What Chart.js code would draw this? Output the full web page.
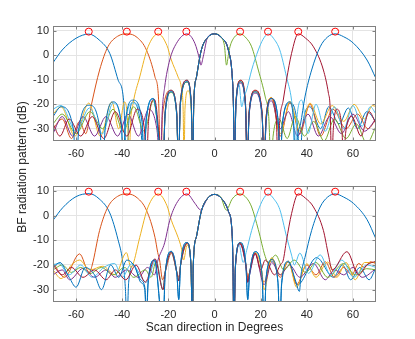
<!DOCTYPE html>
<html lang="en">
<head>
	<meta charset="UTF-8">
	<title>BF radiation pattern</title>
	<script src="https://cdn.jsdelivr.net/npm/chart.js"></script>
	<style>
		body { margin: 0; background: #fff; }
		#wrap { position: relative; width: 415px; height: 339px; }
		canvas { position: absolute; left: 0; }
		#top { top: 0; }
		#bottom { top: 165px; }
		#ylab {
			position: absolute; left: -78.5px; top: 160px; width: 200px; line-height: 16px;
			text-align: center; transform: rotate(-90deg);
			font: 12px "Liberation Sans", Arial, sans-serif; color: #262626;
		}
	</style>
</head>
<body>
<div id="wrap">
	<canvas id="top" width="415" height="165"></canvas>
	<canvas id="bottom" width="415" height="170"></canvas>
	<div id="ylab">BF radiation pattern (dB)</div>
</div>

<script>
	// axis ticks
	const xTicks = [-60, -40, -20, 0, 20, 40, 60];
	const yTicks = [-30, -20, -10, 0, 10];

	// red circles: beam directions
	const beamDirs = [-54.5, -38, -24.4, -12.2, 11.1, 23.2, 36.3, 52.3];
	const beamLevel = 9.7;

	// matlab default colour order (8 curves)
	const colors = ['#0072BD', '#D95319', '#EDB120', '#7E2F8E', '#77AC30', '#4DBEEE', '#A2142F', '#0072BD'];

	// ---------- upper plot ----------
	// broadside lobe and its first sidelobes, shared by the curves
	const topCenter = [[-9.4,-45],[-9.0,-20],[-7.8,-8.8],[-5.7,2.2],[-3,7.3],[0,8.8],[3,7.3],[6,2.2],[7.7,-8.8],[8.2,-20],[8.6,-45]];
	const topSideL = [[-22.3,-45],[-21.4,-24],[-18.8,-14.9],[-16.4,-24],[-15.6,-45],[-14.8,-20],[-11.9,-10.8],[-10.1,-20]];
	const topSideR = [[9.3,-20],[11.2,-10.8],[13.4,-20],[14.2,-45],[15,-24],[17.6,-14.9],[20.6,-24],[21.5,-45]];
	const topSideL2 = [[-22.3,-45],[-21.4,-23],[-18.9,-14.3],[-16.4,-23],[-15.6,-45],[-14.8,-19],[-12.0,-10.2],[-10.1,-19]];
	const topSideR2 = [[9.3,-19],[11.3,-10.2],[13.4,-19],[14.2,-45],[15,-23],[17.7,-14.3],[20.6,-23],[21.5,-45]];

	const topBlueA = [[-70,-3],[-66,2.2],[-60,7],[-54.5,8.7],[-50,6.3],[-45.4,0.8],[-41.8,-10],[-39.4,-18.5],[-38,-45],
		[-37.2,-28],[-35.3,-19],[-32.2,-27],[-30.5,-45],[-29.6,-26],[-26.5,-17.8],
		...topSideL, ...topCenter, ...topSideR,
		[22.4,-26],[24.7,-17.8],[27.6,-27],[28.5,-45],[29.4,-28],[32.7,-19.5],[36,-29],[37,-45],[38,-30],[41.4,-21],[46,-30],[49.5,-21],[54,-28],[58,-21.5],[62,-30],[66,-23],[70,-27]];

	const topOrange = [[-70,-30],[-66,-26],[-62,-34],[-58.5,-27],[-55.8,-32],[-53.3,-20],[-49.8,-6],[-46.2,3.5],[-42,7.8],[-37.7,8.8],[-33.5,7.3],[-29.5,2.2],[-25.8,-8.8],[-24.3,-17],[-23.3,-45],[-22.5,-24],
		[-18.9,-14.3],[-16.4,-23],[-15.6,-45],[-14.8,-19],[-12.0,-10.2],[-10.1,-19],
		...topCenter, ...topSideR2,
		[22.4,-25],[24.7,-17.3],[28.5,-33],[32.7,-19.3],[37,-32],[41.4,-20],[46,-33],[51.3,-22],[57,-30],[62,-24],[66.5,-30],[70,-26]];

	const topYellow = [[-70,-24],[-66.5,-21],[-60.5,-33],[-54.5,-19.5],[-49.5,-33],[-44.5,-19],[-41.5,-30],[-39,-19],[-37.6,-28],[-37,-45],[-36.4,-28],[-35.3,-19.7],[-32.4,-8.8],[-28.8,3.5],[-24.4,8.8],[-20.6,4],[-18.7,-1.9],[-15.8,-8.8],[-14.4,-13],[-13.6,-22],[-13.2,-45],[-12.8,-22],[-11.5,-14.5],[-10.1,-22],
		...topCenter, ...topSideR,
		[22.4,-25],[24.7,-17.2],[28.5,-32],[32.7,-18.8],[37,-31],[41.4,-19.5],[46,-28],[51,-20.5],[56,-27],[60.5,-20],[65,-26],[68.5,-20.5],[70,-21]];

	const topPurple = [[-70,-32],[-66,-25],[-61.5,-33],[-57,-25],[-52,-33],[-47,-25],[-42,-33],[-37.5,-24],[-33,-33],[-28.5,-22],[-25,-30],[-23.4,-45],[-22.7,-24],[-21.6,-13],[-19.4,-1.9],[-16.5,4.9],[-12,8.8],[-8.5,4.9],[-6.4,-1.9],[-5.9,-4],[-4.9,-0.6],[-3,7.3],[0,8.8],[3,7.3],[6,2.2],[7.7,-8.8],[8.2,-20],[8.6,-45],
		[9.3,-20.5],[11.2,-11.4],[13.4,-20.5],[14.2,-45],[15,-24.5],[17.6,-15.5],[20.6,-24.5],[21.5,-45],[22.4,-27],[24.7,-18.6],[28.5,-30],[32,-23],[36,-33],[40.5,-24],[45,-33],[50,-25],[55,-32],[60,-24],[65,-31],[70,-26]];

	const topGreen = [[-70,-28],[-66,-24],[-60,-32],[-54,-23],[-48.5,-30],[-44,-22],[-39.5,-31],[-35,-21],[-30.5,-31],[-26.5,-18.5],
		[-22.3,-45],[-21.4,-24],[-18.8,-15.2],[-16.4,-24],[-15.6,-45],[-14.8,-20],[-11.9,-11],[-10.1,-20],
		[-9.4,-45],[-9.0,-20],[-7.8,-8.8],[-5.7,2.2],[-3,7.3],[0,8.8],[3,7.3],[4.3,4],[5.2,-4],[6.0,0],[6.7,3.5],[8.5,7.3],[11.1,8.8],[13.8,7],[16.1,3.5],[19,-6],[22,-17],[23.5,-25],[24.5,-45],[25.4,-33],
		[28,-26],[31.5,-34],[35,-25],[39,-33],[43,-27],[47.5,-35],[52,-26],[57,-34],[61.5,-28],[66,-36],[70,-29]];

	const topLightBlue = [[-70,-22],[-66.5,-20.5],[-60,-31],[-54.2,-21.5],[-48.5,-32],[-44,-19.5],[-40.4,-28],[-39.5,-45],[-38.6,-28],[-35.3,-19.5],[-31.4,-27],[-30.5,-45],[-29.6,-27],[-26.5,-17.8],
		...topSideL2, ...topCenter,
		[9.3,-20],[10.6,-11.8],[11.8,-21],[12.8,-17],[13.9,-14.2],[16.1,-6],[19,2.2],[21,6.5],[23.3,8.8],[25.7,6.8],[28.3,2.2],[31.2,-8.8],[33.4,-18.3],[34.3,-27],[34.9,-45],[35.6,-27],[37.8,-18.3],[40.5,-32],[44,-20],[48,-31],[52,-21],[56,-30],[60,-20.5],[64,-29],[67.5,-21],[70,-24]];

	const topRed = [[-70,-28],[-67,-33],[-63,-26],[-58,-33],[-53,-25],[-48,-34],[-43,-23],[-38,-33],[-33.5,-22],[-30.4,-30],[-29.5,-45],[-28.6,-27],[-26,-18],
		...topSideL2, ...topCenter, ...topSideR2,
		[22.3,-26],[24.7,-17.6],[26.8,-26],[27.5,-45],[28.2,-28],[29.8,-18.3],[31.2,-10.1],[33.4,0.8],[36.3,8.8],[39.5,7],[42.9,3.5],[47.2,-6],[49.4,-15.6],[50.1,-21],[50.8,-45],[51.5,-30],[53,-22],[55.2,-30],[56,-45],[56.8,-32],[59.5,-25],[63.5,-33],[67,-23],[70,-28]];

	const topBlueB = [[-70,-25],[-66.5,-21],[-61.2,-30],[-60,-45],[-58.8,-30],[-54.2,-20.4],[-49.7,-30],[-48.5,-45],[-47.3,-29],[-44,-19],[-40.4,-28],[-39.5,-45],[-38.6,-27],[-35.3,-18.3],[-31.4,-27],[-30.5,-45],[-29.6,-26.5],[-26.5,-17.6],
		...topSideL, ...topCenter, ...topSideR,
		[22.4,-26.5],[24.7,-17.6],[27.6,-27],[28.5,-45],[29.4,-28],[32.7,-19],[34.3,-28],[35,-45],[36,-33],[37.3,-28],[39.2,-17],[42.1,-6],[45.8,3.5],[49,7.5],[52.3,8.8],[56,7.6],[60.3,4.9],[66.1,-1.9],[70,-9.5]];

	// ---------- lower plot ----------
	const botCenter = [[-9.6,-45],[-9.2,-20],[-7.8,-8.4],[-5.7,1.8],[-3,7],[0,8.6],[3,7],[6,1.8],[7.7,-8.4],[8.0,-20],[8.4,-45]];
	const botSideL = [[-22.3,-30],[-21.4,-23],[-18.7,-14.8],[-16.3,-23],[-15.5,-26.5],[-14.7,-20],[-11.9,-11.1],[-10.2,-20]];
	const botSideR = [[9.1,-20],[11.1,-11.1],[13.6,-20],[14.4,-26.5],[15.2,-23],[17.6,-15],[20.6,-23],[21.5,-30]];
	const botSideLB = [[-22.3,-45],[-21.4,-24],[-18.7,-14.5],[-16.3,-24],[-15.5,-34],[-14.7,-20],[-11.9,-10.9],[-10.2,-20]];
	const botSideRB = [[9.1,-20],[11.1,-10.9],[13.6,-20],[14.4,-34],[15.2,-24],[17.6,-14.6],[20.6,-24],[21.5,-45]];

	const botBlueA = [[-70,-1.9],[-65.8,3.2],[-60,7.7],[-54.3,8.9],[-50,6.8],[-45.4,1.1],[-41.8,-9.8],[-39.9,-18],[-38.6,-30],[-38,-45],[-37.2,-27],[-35,-20],[-32,-27],[-30.2,-30],[-29.5,-45],[-28.8,-28],[-26,-18],
		...botSideLB, ...botCenter, ...botSideRB,
		[22.4,-25],[24.8,-18.5],[27.5,-27],[28.3,-45],[29.1,-28],[32,-19],[36,-28],[44.3,-17],[51.5,-25],[55.5,-20],[59,-26],[63,-21],[67,-26],[70,-21]];

	const botOrange = [[-70,-19],[-65,-25],[-58.5,-15.5],[-54.3,-23],[-53,-20],[-49.8,-6],[-46.2,3.5],[-42,7.8],[-37.7,8.8],[-33.5,7.2],[-29.5,2.2],[-25.8,-8.8],[-24.6,-15],[-23.8,-18],[-22.5,-26],
		[-21.4,-23],[-18.7,-15.2],[-16.3,-23],[-15.5,-25],[-14.7,-20],[-11.9,-11.4],[-10.2,-20],
		...botCenter,
		[9.1,-20],[11.1,-11.4],[13.6,-20],[14.4,-25],[15.2,-23],[17.6,-15.3],[21.5,-27],[24.8,-17.5],[28.5,-25],[32,-18.5],[35.6,-28],[40,-20],[44,-24],[48,-18.7],[52,-25],[56,-21],[59.5,-24],[62.5,-19.4],[65,-21],[67.6,-18.7],[70,-19.5]];

	const botYellow = [[-70,-22],[-66.5,-25.5],[-62,-20],[-58.5,-18],[-54,-22],[-48.4,-20.5],[-43,-24],[-38.2,-15],[-36.2,-21],[-35.3,-19.7],[-32.4,-8.8],[-28.8,3.5],[-24.4,8.8],[-20.6,4],[-18.7,-1.9],[-15.8,-8.8],[-14.4,-13],[-13.4,-18],[-11.9,-12],[-10.2,-20],
		...botCenter, ...botSideR,
		[24.8,-17],[28.5,-24],[32,-18.5],[35.6,-29],[40,-19.5],[44,-25],[49,-18.8],[53,-25],[57,-19],[61,-26],[65,-19],[70,-19]];

	const botPurple = [[-70,-24],[-66,-22],[-62.8,-26],[-57,-21.4],[-52,-25],[-47,-22],[-43,-25],[-38,-22],[-33,-25],[-29,-21],[-26,-24],[-24.5,-18],[-21.6,-11],[-19.4,-1.9],[-16.5,4.9],[-12,8.8],[-8.5,5],[-6.6,2.6],[-5.9,2.2],[-5,3.5],[-3,7],[0,8.6],[3,7],[6,1.8],[7.7,-8.4],[8.0,-20],[8.4,-45],
		[9.1,-20.5],[11.1,-11.6],[13.6,-20.5],[14.4,-27],[15.2,-24],[17.6,-15.6],[21.5,-28],[24.8,-19],[28.5,-24],[32.5,-20],[37,-25],[42.9,-19.4],[48,-26],[52,-22],[56,-24],[60,-21],[64,-25],[70,-21.5]];

	const botGreen = [[-70,-22],[-66,-20],[-62,-23],[-58,-21],[-54,-23.5],[-49,-21],[-44,-24],[-39,-21],[-35,-25],[-30,-22],[-27.5,-25],[-25.3,-18.5],
		...botSideL,
		[-9.6,-45],[-9.2,-20],[-7.8,-8.4],[-5.7,1.8],[-3,7],[0,8.6],[3,7],[4.5,3],[5.2,2.2],[6,3.3],[7.5,6.5],[11.1,8.8],[14,7],[16.1,3.5],[19,-5.7],[22,-16.6],[23.3,-19],[26.5,-16],[30,-22],[34.5,-18],[39.5,-23],[44,-19],[49,-25],[56,-19.4],[61,-24],[66,-21.5],[70,-22]];

	const botLightBlue = [[-70,-20],[-67.5,-19.4],[-63,-24],[-58,-20],[-53,-25],[-48,-21],[-43.3,-19.4],[-40,-25],[-36,-19.5],[-29.5,-27],[-25.5,-18],
		...botSideL, ...botCenter,
		[9.1,-20],[10.8,-12],[11.6,-16],[12.4,-19],[13.9,-14.2],[16.1,-6],[19,2.2],[21,6.5],[23.3,8.8],[25.7,6.8],[28.3,2.5],[31.2,-8.4],[33.4,-16],[34.6,-20],[37,-15.2],[40.7,-23.4],[45.8,-15.9],[50.3,-24],[55.2,-18],[60.3,-25],[66,-20],[70,-21]];

	const botRed = [[-70,-20],[-66,-24],[-62,-21],[-57,-25],[-52,-22],[-47,-26],[-43,-22],[-38.5,-26],[-34,-20],[-30,-27],[-25.8,-17.5],
		...botSideL, ...botCenter,
		[9.1,-20],[11.1,-11.2],[13.6,-20],[14.4,-27],[15.2,-23],[17.6,-15.2],[20,-22],[22,-18],[26,-24],[28.5,-20],[29.8,-18],[31.2,-10.1],[33.4,0.8],[36.3,8.8],[39.5,7],[42.9,3.5],[47.2,-6],[49.4,-16],[51,-22],[57.4,-14.6],[62.5,-24],[66,-20],[70,-18.5]];

	const botBlueB = [[-70,-21],[-67,-19],[-63,-25],[-60,-29],[-56,-21],[-52,-24],[-49,-30],[-45,-20],[-41.5,-25],[-38,-18],[-35,-20],[-32,-26],[-30.2,-29],[-29.5,-40],[-28.8,-27],[-26,-18],
		...botSideLB, ...botCenter, ...botSideRB,
		[22.4,-25],[24.8,-17.8],[27.5,-27],[28.3,-45],[29.1,-27],[32,-18.5],[35,-26],[36.8,-30.7],[37.5,-24],[39.2,-17],[42.1,-6],[45.8,3.5],[49,7.5],[52.3,8.8],[56,7.5],[60.3,4.9],[66.1,-1.6],[70,-9.5]];

	const topCurves = [topBlueA, topOrange, topYellow, topPurple, topGreen, topLightBlue, topRed, topBlueB];
	const botCurves = [botBlueA, botOrange, botYellow, botPurple, botGreen, botLightBlue, botRed, botBlueB];

	const font = { family: '"Liberation Sans", Arial, sans-serif', size: 11 };
	const axisColor = '#808080';

	// matlab style box and inward ticks
	const boxPlugin = {
		id: 'box',
		afterDraw(chart) {
			const { ctx, chartArea: a, scales } = chart;
			const l = Math.round(a.left) + 0.5, r = Math.round(a.right) - 0.5;
			const t = Math.round(a.top) + 0.5, b = Math.round(a.bottom) - 0.5;
			ctx.save();
			ctx.strokeStyle = axisColor;
			ctx.lineWidth = 1;
			ctx.strokeRect(l, t, r - l, b - t);
			ctx.beginPath();
			xTicks.forEach(v => {
				const px = Math.round(scales.x.getPixelForValue(v)) + 0.5;
				ctx.moveTo(px, b); ctx.lineTo(px, b - 3);
				ctx.moveTo(px, t); ctx.lineTo(px, t + 3);
			});
			yTicks.forEach(v => {
				const py = Math.round(scales.y.getPixelForValue(v)) + 0.5;
				ctx.moveTo(l, py); ctx.lineTo(l + 3, py);
				ctx.moveTo(r, py); ctx.lineTo(r - 3, py);
			});
			ctx.stroke();
			ctx.restore();
		}
	};

	function makeChart(id, curves, opts) {
		const datasets = curves.map((c, i) => ({
			data: c,
			borderColor: colors[i],
			borderWidth: 1,
			pointRadius: 0,
			fill: false,
			cubicInterpolationMode: 'monotone',
			order: 20 - i
		}));
		datasets.push({
			type: 'scatter',
			data: beamDirs.map(d => ({ x: d, y: beamLevel })),
			borderColor: '#FF0000',
			backgroundColor: 'rgba(0,0,0,0)',
			borderWidth: 1,
			pointRadius: 3.5,
			showLine: false,
			order: 0
		});

		return new Chart(document.getElementById(id), {
			type: 'line',
			data: { datasets },
			plugins: [boxPlugin],
			options: {
				responsive: false,
				animation: false,
				devicePixelRatio: 1,
				layout: { padding: { left: 0, right: 39, top: opts.top, bottom: 0 } },
				plugins: { legend: { display: false }, tooltip: { enabled: false } },
				scales: {
					x: {
						type: 'linear', min: -70, max: 70,
						afterBuildTicks: s => { s.ticks = xTicks.map(v => ({ value: v })); },
						afterFit: s => { s.height = opts.xh; },
						grid: { color: '#e4e4e4', drawTicks: false },
						border: { display: false },
						ticks: { font, color: '#262626', padding: 6, maxRotation: 0 },
						title: {
							display: !!opts.xtitle, text: opts.xtitle,
							font: { family: font.family, size: 12 }, color: '#262626',
							padding: { top: 0, bottom: 0 }
						}
					},
					y: {
						type: 'linear', min: -35, max: 12,
						afterBuildTicks: s => { s.ticks = yTicks.map(v => ({ value: v })); },
						afterFit: s => { s.width = 53; },
						grid: { color: '#e4e4e4', drawTicks: false },
						border: { display: false },
						ticks: { font, color: '#262626', padding: 4 }
					}
				}
			}
		});
	}

	makeChart('top', topCurves, { top: 26, xh: 24 });
	makeChart('bottom', botCurves, { top: 21, xh: 33, xtitle: 'Scan direction in Degrees' });
</script>
</body>
</html>
